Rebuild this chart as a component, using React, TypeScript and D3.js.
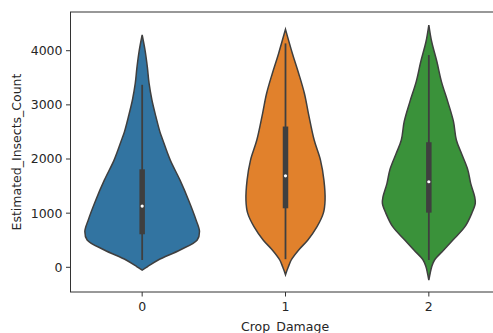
import * as d3 from "d3";

// categories of Crop_Damage
const categories = ["0", "1", "2"];
const colors = ["#3274a1", "#e1812c", "#3a923a"];

// violin outlines: [Estimated_Insects_Count, relative density]
const densityDamage0: [number, number][] = [
  [4290, 0], [4010, 0.05], [3700, 0.09], [3400, 0.12], [3090, 0.17], [2780, 0.24],
  [2500, 0.31], [2350, 0.36], [1980, 0.49], [1610, 0.66], [1240, 0.81], [875, 0.94],
  [660, 1], [505, 0.96], [320, 0.66], [135, 0.28], [10, 0.09], [-50, 0],
];
const densityDamage1: [number, number][] = [
  [4395, 0], [3950, 0.12], [3580, 0.23], [3210, 0.33], [2840, 0.4], [2350, 0.5],
  [1980, 0.61], [1610, 0.67], [1240, 0.69], [1000, 0.66], [750, 0.55], [505, 0.39],
  [320, 0.23], [135, 0.1], [10, 0.05], [-60, 0.025], [-140, 0],
];
const densityDamage2: [number, number][] = [
  [4475, 0], [4165, 0.05], [3800, 0.14], [3430, 0.22], [3060, 0.33], [2690, 0.43],
  [2350, 0.48], [2100, 0.57], [1800, 0.68], [1550, 0.73], [1300, 0.8], [1180, 0.81],
  [1000, 0.75], [750, 0.63], [505, 0.42], [320, 0.26], [135, 0.1], [10, 0.05],
  [-100, 0.025], [-235, 0],
];
const densities = [densityDamage0, densityDamage1, densityDamage2];

// inner box stats
const whiskerLow = [135, 150, 135];
const q1 = [610, 1090, 1010];
const medians = [1130, 1690, 1580];
const q3 = [1810, 2600, 2310];
const whiskerHigh = [3370, 4135, 3920];

const yTicks = [0, 1000, 2000, 3000, 4000];

export default function App() {
  const W = 493;
  const H = 333;
  const left = 70.5;
  const top = 12;
  const bottom = 292;
  const right = 500.5;

  const x = d3.scaleBand<string>().domain(categories).range([left, right]).padding(0);
  const y = d3.scaleLinear().domain([-456, 4715]).range([bottom, top]);
  const w = d3.scaleLinear().domain([0, 1]).range([0, x.bandwidth() * 0.4]);

  const grey = "#3f3f3f";
  const font = "DejaVu Sans, sans-serif";

  return (
    <svg
      width={W}
      height={H}
      style={{ position: "absolute", left: 0, top: 0, background: "#fff" }}
    >
      {categories.map((c, i) => {
        const cx = x(c)! + x.bandwidth() / 2;
        const area = d3
          .area<[number, number]>()
          .y((d) => y(d[0]))
          .x0((d) => cx - w(d[1]))
          .x1((d) => cx + w(d[1]))
          .curve(d3.curveCatmullRom.alpha(0.5));
        return (
          <g key={c}>
            <path d={area(densities[i]) ?? ""} fill={colors[i]} stroke={grey} strokeWidth={1.5} />
            <line x1={cx} x2={cx} y1={y(whiskerLow[i])} y2={y(whiskerHigh[i])} stroke={grey} strokeWidth={1.8} />
            <line x1={cx} x2={cx} y1={y(q1[i])} y2={y(q3[i])} stroke={grey} strokeWidth={5.5} />
            <circle cx={cx} cy={y(medians[i])} r={1.6} fill="#fff" />
          </g>
        );
      })}

      {/* spines */}
      <rect x={left} y={top} width={right - left} height={bottom - top} fill="none" stroke="#333" strokeWidth={1} />

      {/* y axis */}
      {yTicks.map((t) => (
        <g key={t} transform={`translate(0,${y(t)})`}>
          <line x1={left - 4.5} x2={left} stroke="#333" strokeWidth={1} />
          <text x={left - 8} dy="0.35em" textAnchor="end" fontFamily={font} fontSize={12.5} fill="#262626">
            {t}
          </text>
        </g>
      ))}

      {/* x axis */}
      {categories.map((c) => {
        const cx = x(c)! + x.bandwidth() / 2;
        return (
          <g key={c} transform={`translate(${cx},${bottom})`}>
            <line y1={0} y2={4.5} stroke="#333" strokeWidth={1} />
            <text y={19} textAnchor="middle" fontFamily={font} fontSize={12.5} fill="#262626">
              {c}
            </text>
          </g>
        );
      })}

      <text x={285} y={330.5} textAnchor="middle" fontFamily={font} fontSize={12.5} fill="#262626">
        Crop_Damage
      </text>
      <text
        transform={`translate(21,${(top + bottom) / 2}) rotate(-90)`}
        textAnchor="middle"
        fontFamily={font}
        fontSize={12.5}
        fill="#262626"
      >
        Estimated_Insects_Count
      </text>
    </svg>
  );
}
